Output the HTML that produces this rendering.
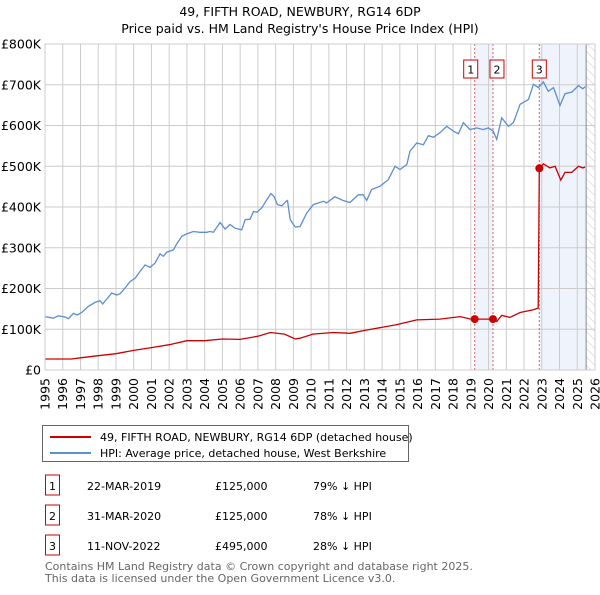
<!DOCTYPE html>
<html><head><meta charset="utf-8"><style>
body{margin:0;background:#fff;font-family:"Liberation Sans","DejaVu Sans",sans-serif;}
svg text{font-family:"DejaVu Sans","Liberation Sans",sans-serif;}
</style></head><body>
<svg id="chart" width="600" height="590" xmlns="http://www.w3.org/2000/svg">
<defs><pattern id="hatch" width="6" height="6" patternUnits="userSpaceOnUse" patternTransform="rotate(-45)"><line x1="0" y1="0" x2="0" y2="6" stroke="#ccc" stroke-width="1"/></pattern></defs>
<text x="300" y="16" text-anchor="middle" font-size="12.5" fill="#000">49, FIFTH ROAD, NEWBURY, RG14 6DP</text>
<text x="300" y="33" text-anchor="middle" font-size="12.5" fill="#000">Price paid vs. HM Land Registry's House Price Index (HPI)</text>
<g id="plot"></g>
<g>
<rect x="42.5" y="425.5" width="366" height="36" fill="#fff" stroke="#666"/>
<line x1="50" y1="437" x2="91" y2="437" stroke="#cc0000" stroke-width="2"/>
<text x="100" y="441" font-size="11">49, FIFTH ROAD, NEWBURY, RG14 6DP (detached house)</text>
<line x1="50" y1="453" x2="91" y2="453" stroke="#5b8fd0" stroke-width="2"/>
<text x="100" y="457" font-size="11">HPI: Average price, detached house, West Berkshire</text>
</g>
<g id="table" font-size="11"></g>
<text x="45" y="570" font-size="11" fill="#666">Contains HM Land Registry data © Crown copyright and database right 2025.</text>
<text x="45" y="582" font-size="11" fill="#666">This data is licensed under the Open Government Licence v3.0.</text>
</svg>
<script>
const hpiYears=[1995,1995.47,1995.75,1996.13,1996.32,1996.6,1996.82,1997.07,1997.44,1997.82,1998.1,1998.25,1998.48,1998.76,1999.04,1999.23,1999.51,1999.79,2000.08,2000.36,2000.64,2000.92,2001.2,2001.48,2001.67,2001.86,2002.24,2002.42,2002.71,2002.99,2003.36,2003.74,2004.12,2004.3,2004.49,2004.87,2005.15,2005.43,2005.71,2006.09,2006.28,2006.56,2006.75,2006.94,2007.22,2007.5,2007.73,2007.91,2008.1,2008.35,2008.59,2008.67,2008.82,2009.1,2009.37,2009.75,2010.12,2010.69,2010.87,2011.34,2011.81,2012.19,2012.66,2012.94,2013.13,2013.41,2013.88,2014.35,2014.73,2015.01,2015.39,2015.57,2015.95,2016.33,2016.61,2016.89,2017.26,2017.64,2018.02,2018.3,2018.58,2018.96,2019.33,2019.71,2019.99,2020.27,2020.46,2020.74,2021.12,2021.4,2021.78,2022.25,2022.53,2022.81,2023.09,2023.37,2023.66,2024.03,2024.31,2024.69,2025.07,2025.31,2025.44];
const hpiValues=[131,127,133,130,126,139,135,141,156,166,170,162,174,189,184,187,201,217,225,242,258,252,262,285,279,289,295,309,328,334,340,338,338,340,338,362,346,357,348,344,369,370,389,387,398,418,433,426,406,403,414,416,369,351,352,385,406,414,410,425,416,411,430,430,416,443,451,467,500,492,504,537,557,553,575,571,582,598,586,580,607,590,594,590,594,586,566,619,598,607,652,664,701,693,707,684,693,649,678,682,698,690,695];
const redYears=[1995,1996.5,1997,1998,1999,2000,2001,2002,2003,2004,2005,2006,2007,2007.7,2008.5,2009.1,2009.37,2010.1,2011.25,2012.2,2013.1,2014.8,2015.95,2017.26,2018.4,2019,2019.22,2020.25,2020.46,2020.74,2021.2,2021.78,2022.53,2022.8,2022.86,2023.09,2023.46,2023.75,2024.07,2024.31,2024.69,2025.07,2025.31,2025.44];
const redValues=[27,27,30,35,40,48,55,62,72,72,76,75,83,92,88,76,78,88,92,90,98,111,123,125,131,125,125,125,119,134,129,141,148,152,495,506,496,500,466,485,485,500,496,498];
const saleYears=[2019.22,2020.25,2022.86];
const saleValues=[125,125,495];
const saleLabels=["1","2","3"];
const saleDates=["22-MAR-2019","31-MAR-2020","11-NOV-2022"];
const salePrices=["£125,000","£125,000","£495,000"];
const salePct=["79% ↓ HPI","78% ↓ HPI","28% ↓ HPI"];
const yTicks=[0,100,200,300,400,500,600,700,800];
const yTickLabels=["£0","£100K","£200K","£300K","£400K","£500K","£600K","£700K","£800K"];
const xTicks=[1995,1996,1997,1998,1999,2000,2001,2002,2003,2004,2005,2006,2007,2008,2009,2010,2011,2012,2013,2014,2015,2016,2017,2018,2019,2020,2021,2022,2023,2024,2025,2026];
const dataEnd=2025.5;

const NS="http://www.w3.org/2000/svg";
const X0=45,X1=595,Y0=370,Y1=44;
const xs=y=>X0+(y-1995)/(2026-1995)*(X1-X0);
const ys=v=>Y0-v/800*(Y0-Y1);
const plot=document.getElementById('plot');
function mk(tag,attrs,parent){const e=document.createElementNS(NS,tag);for(const k in attrs)e.setAttribute(k,attrs[k]);(parent||plot).appendChild(e);return e;}

let e=mk('rect',{x:xs(saleYears[0]),y:Y1,width:xs(saleYears[1])-xs(saleYears[0]),height:Y0-Y1,fill:'#eef3fc'});


e=mk('rect',{x:xs(saleYears[2]),y:Y1,width:xs(dataEnd)-xs(saleYears[2]),height:Y0-Y1,fill:'#eef3fc'});


e=mk('rect',{x:xs(dataEnd),y:Y1,width:X1-xs(dataEnd),height:Y0-Y1,fill:'url(#hatch)'});



xTicks.forEach((t,i)=>{
  const g=mk('line',{x1:xs(t),x2:xs(t),y1:Y1,y2:Y0,stroke:'#ccc','stroke-width':1});
  
  
  const tx=mk('text',{x:0,y:0,'font-size':12.5,'text-anchor':'end',transform:`translate(${xs(t)+4.5},${Y0+8}) rotate(-90)`});
  tx.textContent=t;
  
  
});
yTicks.forEach((t,i)=>{
  const g=mk('line',{x1:X0,x2:X1,y1:ys(t),y2:ys(t),stroke:'#ccc','stroke-width':1});
  
  
  const tx=mk('text',{x:X0-4,y:ys(t)+4.5,'font-size':12.5,'text-anchor':'end'});
  tx.textContent=yTickLabels[i];
  
  
});
e=mk('line',{x1:xs(dataEnd),x2:xs(dataEnd),y1:Y1,y2:Y0,stroke:'#888','stroke-width':1});



saleYears.forEach((s,i)=>{
  const l=mk('line',{x1:xs(s),x2:xs(s),y1:Y1,y2:Y0,stroke:'#e06060','stroke-width':1,'stroke-dasharray':'2,2'});
  
  
  const bx=xs(s)+(i===0?-4:(i===1?4:0));
  const r=mk('rect',{x:bx-7,y:60,width:14,height:18,fill:'#fff',stroke:'#cc0000','stroke-width':1});
  
  
  const t=mk('text',{x:bx,y:73.5,'font-size':11,'text-anchor':'middle'});
  t.textContent=saleLabels[i];
  
  
});

e=mk('path',{d:hpiYears.map((y,i)=>(i?'L':'M')+xs(y).toFixed(1)+','+ys(hpiValues[i]).toFixed(1)).join(''),fill:'none',stroke:'#5b8fd0','stroke-width':1.3});


e=mk('path',{d:redYears.map((y,i)=>(i?'L':'M')+xs(y).toFixed(1)+','+ys(redValues[i]).toFixed(1)).join(''),fill:'none',stroke:'#cc0000','stroke-width':1.3});


saleYears.forEach((s,i)=>{
  const c=mk('circle',{cx:xs(s),cy:ys(saleValues[i]),r:4,fill:'#cc0000'});
  
  
});
e=mk('rect',{x:X0,y:Y1,width:X1-X0,height:Y0-Y1,fill:'none',stroke:'#ccc'});



const tb=document.getElementById('table');
saleLabels.forEach((lab,i)=>{
  const cy=486+i*30;
  const r=mk('rect',{x:45.5,y:cy-11,width:14,height:20,fill:'#fff',stroke:'#cc0000'},tb);
  
  
  const cells=[[52.5,lab,'middle'],[87,saleDates[i],'start'],[215,salePrices[i],'start'],[313,salePct[i],'start']];
  cells.forEach(c=>{
    const t=mk('text',{x:c[0],y:cy+4,'text-anchor':c[2]},tb);
    t.textContent=c[1];
    
    
  });
});
</script>
</body></html>
